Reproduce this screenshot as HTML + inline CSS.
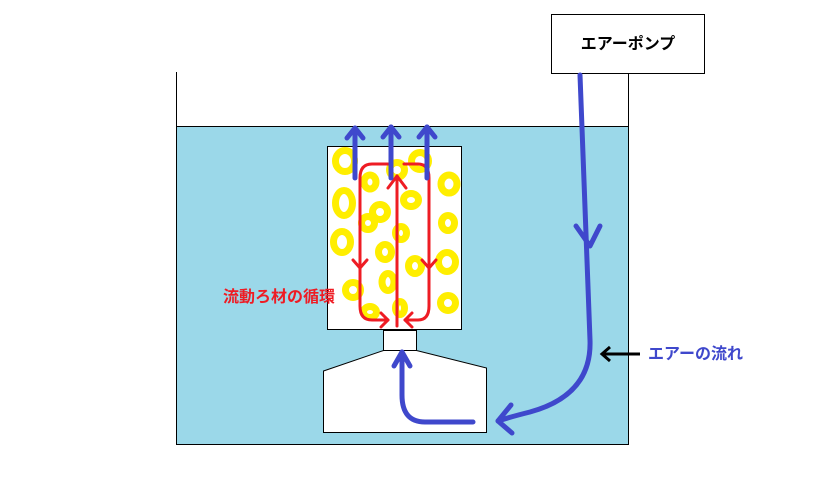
<!DOCTYPE html>
<html><head><meta charset="utf-8"><style>
html,body{margin:0;padding:0;background:#fff;}
svg{display:block;}
text{font-family:"Liberation Sans","Noto Sans CJK JP",sans-serif;font-weight:bold;font-size:16px;}
</style></head><body>
<svg width="819" height="487" viewBox="0 0 819 487" xmlns="http://www.w3.org/2000/svg">
<rect x="176.5" y="126.5" width="452" height="318" fill="#9bd8e9" stroke="#000" stroke-width="1"/>
<line x1="176.5" y1="72" x2="176.5" y2="127" stroke="#000"/>
<line x1="628.5" y1="72" x2="628.5" y2="127" stroke="#000"/>
<rect x="551.5" y="14.5" width="153" height="59" fill="#fff" stroke="#000"/>
<text x="628" y="49" text-anchor="middle" fill="#000">エアーポンプ</text>
<rect x="327.5" y="146.5" width="134" height="183" fill="#fff" stroke="#000"/>
<rect x="383.5" y="330.5" width="33" height="20" fill="#fff" stroke="#000"/>
<polygon points="323.5,371 383.5,350.5 416.5,350.5 486.5,368 486.5,432.5 323.5,432.5" fill="#fff" stroke="#000"/>
<g fill="none" stroke="#ffee00" stroke-width="7">
<ellipse cx="345" cy="161" rx="9.5" ry="10.5"/>
<ellipse cx="420" cy="161" rx="8.5" ry="8.5"/>
<ellipse cx="397" cy="170" rx="7.5" ry="7.5"/>
<ellipse cx="370" cy="182" rx="6" ry="7"/>
<ellipse cx="449" cy="184" rx="8" ry="9"/>
<ellipse cx="344" cy="203" rx="8.5" ry="12.5"/>
<ellipse cx="380" cy="212" rx="7.5" ry="7.5"/>
<ellipse cx="411" cy="200" rx="7.5" ry="6.5"/>
<ellipse cx="368" cy="223" rx="6.5" ry="6.5"/>
<ellipse cx="401" cy="233" rx="5.5" ry="6.5"/>
<ellipse cx="342" cy="242" rx="8.5" ry="10.5"/>
<ellipse cx="448" cy="223" rx="6.5" ry="7.5"/>
<ellipse cx="385" cy="252" rx="6.5" ry="7.5"/>
<ellipse cx="415" cy="266" rx="6.5" ry="7.5"/>
<ellipse cx="447" cy="262" rx="8.5" ry="9.5"/>
<ellipse cx="388" cy="282" rx="6" ry="8.5"/>
<ellipse cx="353" cy="290" rx="7.5" ry="7.5"/>
<ellipse cx="370" cy="312" rx="6.5" ry="5.5"/>
<ellipse cx="400" cy="308" rx="4.5" ry="6.5"/>
<ellipse cx="448" cy="303" rx="7.5" ry="7.5"/>
</g>
<g fill="none" stroke="#ee1c24" stroke-width="3" stroke-linecap="round" stroke-linejoin="round">
<path d="M390,164 L372,164 Q360,164 360,178 L360,306 Q360,320 372,320 L388,320"/>
<path d="M404,164 L418,164 Q429,164 429,178 L429,306 Q429,320 418,320 L405,320"/>
<path d="M397,326 L397,176"/>
<path d="M388,188 L397,176 L406,188"/>
<path d="M353,260 L360,268 L367,260"/>
<path d="M422,260 L429,268 L436,260"/>
<path d="M381,313 L388,320 L381,327"/>
<path d="M412,313 L405,320 L412,327"/>
</g>
<g fill="none" stroke="#3f48cc" stroke-width="5" stroke-linecap="round" stroke-linejoin="round">
<path d="M355,178 L355,128"/><path d="M347,138 L355,128 L363,138"/>
<path d="M391,178 L391,127"/><path d="M383,137 L391,127 L399,137"/>
<path d="M427,178 L427,127"/><path d="M419,137 L427,127 L435,137"/>
<path d="M580,75 L590,340 Q592,395 530,412 Q510,417 498,421"/>
<path d="M576,226 L590,246 L600,226"/>
<path d="M511,405 L498,421 L512,433"/>
<path d="M473,422 L425,422 Q402,422 402,395 L402,352"/>
<path d="M394,366 L402,352 L410,366"/>
</g>
<g fill="none" stroke="#000" stroke-width="3">
<path d="M640,354 L602,354"/><path d="M610,347 L602,354 L610,361"/>
</g>
<text x="223" y="302" fill="#ee1c24">流動ろ材の循環</text>
<text x="648" y="359" fill="#3f48cc">エアーの流れ</text>
</svg>
</body></html>
